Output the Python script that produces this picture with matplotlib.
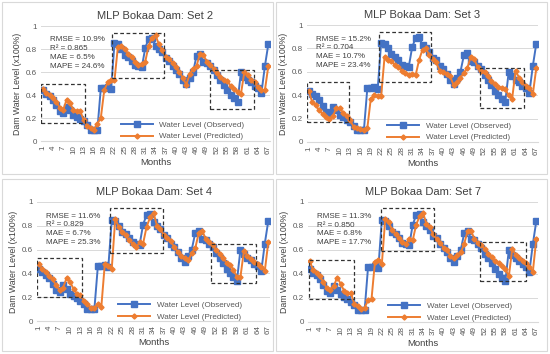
import matplotlib
matplotlib.use("Agg")
import matplotlib.pyplot as plt
from matplotlib.patches import Rectangle
import numpy as np

plt.rcParams['font.family'] = ['Liberation Sans', 'DejaVu Sans']

# observed dam level, months 1..67
observed = [0.44, 0.41, 0.39, 0.36, 0.31, 0.26, 0.24, 0.30, 0.27, 0.23,
            0.21, 0.19, 0.17, 0.14, 0.10, 0.10, 0.10, 0.46, 0.46, 0.47,
            0.45, 0.85, 0.84, 0.80, 0.75, 0.73, 0.70, 0.66, 0.65, 0.64,
            0.81, 0.89, 0.90, 0.83, 0.80, 0.77, 0.72, 0.70, 0.65, 0.62,
            0.58, 0.53, 0.50, 0.55, 0.60, 0.74, 0.76, 0.69, 0.68, 0.65,
            0.62, 0.57, 0.53, 0.49, 0.44, 0.40, 0.37, 0.34, 0.60, 0.56,
            0.53, 0.51, 0.48, 0.46, 0.42, 0.65, 0.84]

pred_set2 = [0.45, 0.42, 0.40, 0.37, 0.34, 0.29, 0.27, 0.36, 0.33, 0.27,
             0.26, 0.26, 0.18, 0.13, 0.11, 0.10, 0.15, 0.20, 0.44, 0.51,
             0.53, 0.53, 0.82, 0.83, 0.80, 0.76, 0.73, 0.69, 0.66, 0.67,
             0.69, 0.83, 0.90, 0.92, 0.84, 0.79, 0.73, 0.71, 0.68, 0.64,
             0.60, 0.55, 0.49, 0.58, 0.63, 0.65, 0.76, 0.75, 0.69, 0.66,
             0.63, 0.59, 0.56, 0.53, 0.52, 0.48, 0.45, 0.43, 0.41, 0.60,
             0.57, 0.53, 0.51, 0.47, 0.44, 0.44, 0.65]

pred_set3 = [0.44, 0.34, 0.32, 0.27, 0.24, 0.21, 0.20, 0.22, 0.29, 0.29,
             0.25, 0.22, 0.19, 0.13, 0.12, 0.11, 0.10, 0.12, 0.37, 0.40,
             0.39, 0.39, 0.73, 0.70, 0.69, 0.66, 0.64, 0.61, 0.59, 0.57,
             0.58, 0.57, 0.70, 0.79, 0.80, 0.74, 0.71, 0.68, 0.61, 0.60,
             0.58, 0.56, 0.49, 0.51, 0.55, 0.59, 0.63, 0.73, 0.71, 0.64,
             0.61, 0.60, 0.56, 0.52, 0.50, 0.47, 0.46, 0.45, 0.40, 0.37,
             0.61, 0.55, 0.51, 0.48, 0.46, 0.41, 0.63]

pred_set4 = [0.48, 0.44, 0.41, 0.38, 0.35, 0.30, 0.26, 0.28, 0.36, 0.33,
             0.27, 0.23, 0.22, 0.17, 0.14, 0.11, 0.11, 0.14, 0.12, 0.48,
             0.46, 0.44, 0.86, 0.79, 0.75, 0.72, 0.68, 0.65, 0.62, 0.66,
             0.65, 0.79, 0.87, 0.91, 0.80, 0.77, 0.72, 0.70, 0.67, 0.62,
             0.58, 0.55, 0.53, 0.51, 0.57, 0.61, 0.74, 0.76, 0.69, 0.66,
             0.64, 0.60, 0.56, 0.53, 0.49, 0.47, 0.43, 0.37, 0.37, 0.59,
             0.55, 0.52, 0.50, 0.48, 0.45, 0.42, 0.66]

pred_set7 = [0.51, 0.43, 0.41, 0.38, 0.33, 0.28, 0.27, 0.30, 0.37, 0.32,
             0.26, 0.24, 0.24, 0.15, 0.13, 0.11, 0.12, 0.18, 0.19, 0.50,
             0.52, 0.48, 0.86, 0.83, 0.77, 0.73, 0.70, 0.67, 0.65, 0.69,
             0.68, 0.81, 0.88, 0.91, 0.82, 0.79, 0.73, 0.69, 0.66, 0.62,
             0.60, 0.55, 0.53, 0.56, 0.58, 0.65, 0.76, 0.76, 0.69, 0.66,
             0.64, 0.61, 0.57, 0.54, 0.51, 0.49, 0.47, 0.44, 0.38, 0.61,
             0.56, 0.53, 0.51, 0.49, 0.46, 0.42, 0.69]

set_names = ["Set 2", "Set 3", "Set 4", "Set 7"]
predictions = [pred_set2, pred_set3, pred_set4, pred_set7]
metrics = [("10.9%", "0.865", "6.5%", "24.6%"),
           ("15.2%", "0.704", "10.7%", "23.4%"),
           ("11.6%", "0.829", "6.7%", "25.3%"),
           ("11.3%", "0.850", "6.8%", "17.7%")]

# dashed highlight boxes (x0, x1, y0, y1) per panel
boxes = [[(0.5, 13.5, 0.16, 0.50), (21.2, 36.6, 0.55, 0.94), (49.8, 62.8, 0.28, 0.62)],
         [(0.5, 12.6, 0.17, 0.51), (21.4, 36.6, 0.51, 0.94), (50.8, 63.5, 0.29, 0.63)],
         [(0.5, 13.4, 0.20, 0.53), (21.6, 36.8, 0.57, 0.95), (50.6, 63.6, 0.32, 0.65)],
         [(0.8, 13.8, 0.19, 0.52), (21.8, 37.1, 0.59, 0.95), (50.7, 63.9, 0.34, 0.67)]]

months = np.arange(1, len(observed) + 1)
blue = '#4472C4'
orange = '#ED7D31'
grid_c = '#D9D9D9'
txt_c = '#404040'

W, H = 550, 354
fig = plt.figure(figsize=(5.5, 3.54), dpi=100)

# panel frames in pixels: (left, top, right, bottom)
frames = [(2, 2, 273, 174), (276, 2, 547, 174), (2, 179, 273, 351), (276, 179, 547, 351)]
# plot areas in pixels: (left, top(y=1), right, bottom(y=0))
areas = [(41, 26, 270, 141), (307, 25, 538, 142), (37, 202, 270, 321), (308, 202, 538, 322)]

for i in range(4):
    fl, ft, fr, fb = frames[i]
    fig.patches.append(Rectangle((fl / W, 1 - fb / H), (fr - fl) / W, (fb - ft) / H,
                                 transform=fig.transFigure, fill=False,
                                 edgecolor=grid_c, linewidth=0.8))
    al, at, ar, ab = areas[i]
    ax = fig.add_axes([al / W, 1 - ab / H, (ar - al) / W, (ab - at) / H])

    ax.plot(months, observed, color=blue, marker='s', markersize=3.8,
            linewidth=1.4, label='Water Level (Observed)', zorder=3)
    ax.plot(months, predictions[i], color=orange, marker='D', markersize=2.6,
            linewidth=1.4, label='Water Level (Predicted)', zorder=4)

    for (x0, x1, y0, y1) in boxes[i]:
        ax.add_patch(Rectangle((x0, y0), x1 - x0, y1 - y0, fill=False,
                               edgecolor='#333333', linestyle=(0, (3, 2)),
                               linewidth=0.9, zorder=5))

    ax.set_xlim(0.5, 67.5)
    ax.set_ylim(0, 1)
    ax.set_yticks([0, 0.2, 0.4, 0.6, 0.8, 1.0])
    ax.set_yticklabels(['0', '0.2', '0.4', '0.6', '0.8', '1'])
    ax.set_xticks(months[::3])
    ax.set_xticklabels([str(m) for m in months[::3]], rotation=90)
    ax.tick_params(axis='both', labelsize=5.8, length=0, colors='#595959', pad=3)
    ax.grid(axis='y', color=grid_c, linewidth=0.7)
    ax.set_axisbelow(True)
    for s in ['top', 'right', 'left']:
        ax.spines[s].set_visible(False)
    ax.spines['bottom'].set_color(grid_c)

    ax.set_title('MLP Bokaa Dam: ' + set_names[i], fontsize=8, color=txt_c, pad=5)
    ax.set_xlabel('Months', fontsize=6.8, color=txt_c, labelpad=3)
    ax.set_ylabel('Dam Water Level (x100%)', fontsize=6.3, color=txt_c, labelpad=3)

    rmse, r2, mae, mape = metrics[i]
    ax.text(0.04, 0.91, 'RMSE = ' + rmse + '\nR\u00b2 = ' + r2 + '\nMAE = ' + mae + '\nMAPE = ' + mape,
            transform=ax.transAxes, fontsize=5.8, color=txt_c, va='top',
            linespacing=1.35)

    ax.legend(loc='lower left', bbox_to_anchor=(0.33, -0.03), frameon=False,
              fontsize=5.8, handlelength=4, labelcolor='#595959',
              labelspacing=0.5, borderaxespad=0.1)

fig.savefig('out.png', dpi=100, facecolor='white')
